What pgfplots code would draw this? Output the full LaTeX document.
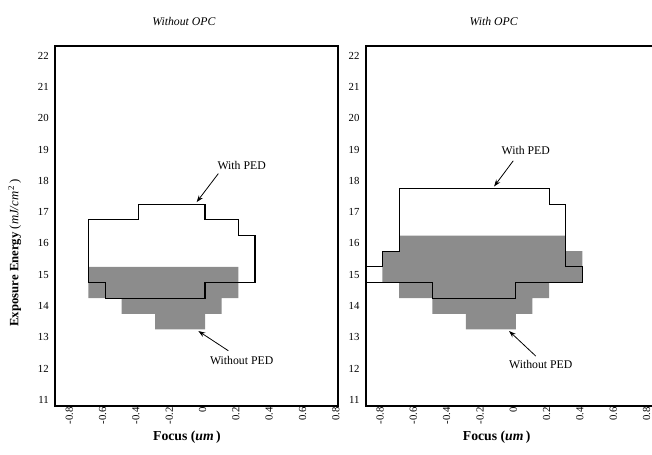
\documentclass[border=0pt]{standalone}
\usepackage{fontspec}
\setmainfont{Liberation Serif}
\usepackage{pgfplots}
\pgfplotsset{compat=1.18}
\usetikzlibrary{arrows.meta}
\definecolor{pedgray}{RGB}{140,140,140}
\pgfplotsset{
  myax/.style={
    scale only axis, width=288bp, height=366bp,
    xmin=-0.85, xmax=0.85, ymin=10.8, ymax=22.3,
    axis line style={line width=1.8bp},
    xtick={-0.8,-0.6,-0.4,-0.2,0,0.2,0.4,0.6,0.8},
    ytick={11,12,...,22},
    major tick length=0pt,
    /pgf/number format/assume math mode=true,
    xticklabel={\pgfmathprintnumber[fixed,precision=1]{\tick}},
    x tick label style={rotate=90, anchor=east, font=\fontsize{11}{13}\selectfont, inner sep=1pt, yshift=-6bp},
    y tick label style={font=\fontsize{11}{13}\selectfont, xshift=-3bp},
    clip=true,
  },
  outl/.style={black, line width=1.1bp, mark=none},
  fillg/.style={fill=pedgray, draw=none, mark=none},
}
\begin{document}
\begin{tikzpicture}
% Left axis: Without OPC
\begin{axis}[myax, at={(56bp,49bp)}, anchor=south west]
\addplot[fillg] coordinates {(-0.65,15.25) (0.25,15.25) (0.25,14.25) (0.15,14.25) (0.15,13.75) (0.05,13.75) (0.05,13.25) (-0.25,13.25) (-0.25,13.75) (-0.45,13.75) (-0.45,14.25) (-0.65,14.25)} -- cycle;
\addplot[outl] coordinates {(-0.65,16.75) (-0.35,16.75) (-0.35,17.25) (0.05,17.25) (0.05,16.75) (0.25,16.75) (0.25,16.25) (0.35,16.25) (0.35,14.75) (0.05,14.75) (0.05,14.25) (-0.55,14.25) (-0.55,14.75) (-0.65,14.75)} -- cycle;
\node[font=\fontsize{12}{14}\selectfont] at (axis cs:0.27,18.5) {With PED};
\draw[-{Stealth[length=7bp,width=5bp]}, line width=0.8bp] (axis cs:0.13,18.23) -- (axis cs:0.0,17.32);
\node[font=\fontsize{12}{14}\selectfont] at (axis cs:0.27,12.25) {Without PED};
\draw[-{Stealth[length=7bp,width=5bp]}, line width=0.8bp] (axis cs:0.19,12.57) -- (axis cs:0.01,13.2);
\end{axis}
% Right axis: With OPC (its right border runs past the page edge, as in the reference)
\begin{axis}[myax, at={(372bp,49bp)}, anchor=south west, width=298bp, xmax=0.909]
\addplot[fillg] coordinates {(-0.65,16.25) (0.35,16.25) (0.35,15.75) (0.45,15.75) (0.45,14.75) (0.25,14.75) (0.25,14.25) (0.15,14.25) (0.15,13.75) (0.05,13.75) (0.05,13.25) (-0.25,13.25) (-0.25,13.75) (-0.45,13.75) (-0.45,14.25) (-0.65,14.25) (-0.65,14.75) (-0.75,14.75) (-0.75,15.75) (-0.65,15.75)} -- cycle;
\addplot[outl] coordinates {(-0.95,15.25) (-0.75,15.25) (-0.75,15.75) (-0.65,15.75) (-0.65,17.75) (0.25,17.75) (0.25,17.25) (0.35,17.25) (0.35,15.25) (0.45,15.25) (0.45,14.75) (0.05,14.75) (0.05,14.25) (-0.45,14.25) (-0.45,14.75) (-0.95,14.75)};
\node[font=\fontsize{12}{14}\selectfont] at (axis cs:0.11,18.98) {With PED};
\draw[-{Stealth[length=7bp,width=5bp]}, line width=0.8bp] (axis cs:0.035,18.64) -- (axis cs:-0.08,17.82);
\node[font=\fontsize{12}{14}\selectfont] at (axis cs:0.2,12.13) {Without PED};
\draw[-{Stealth[length=7bp,width=5bp]}, line width=0.8bp] (axis cs:0.17,12.4) -- (axis cs:0.01,13.2);
\end{axis}
% titles and labels
\node[font=\fontsize{12}{14}\selectfont\itshape] at (187bp,440bp) {Without OPC};
\node[font=\fontsize{12}{14}\selectfont\itshape] at (502bp,440bp) {With OPC};
\node[font=\fontsize{14}{16}\selectfont\bfseries] at (190bp,17bp) {Focus (\textit{um}\,)};
\node[font=\fontsize{14}{16}\selectfont\bfseries] at (505bp,17bp) {Focus (\textit{um}\,)};
\node[rotate=90, font=\fontsize{13}{15}\selectfont] at (15bp,205bp) {\textbf{Exposure Energy} (\textit{mJ/cm}\textsuperscript{\,2}\,)};
\pgfresetboundingbox
\path[use as bounding box] (0bp,0bp) rectangle (663bp,462bp);
\end{tikzpicture}
\end{document}
